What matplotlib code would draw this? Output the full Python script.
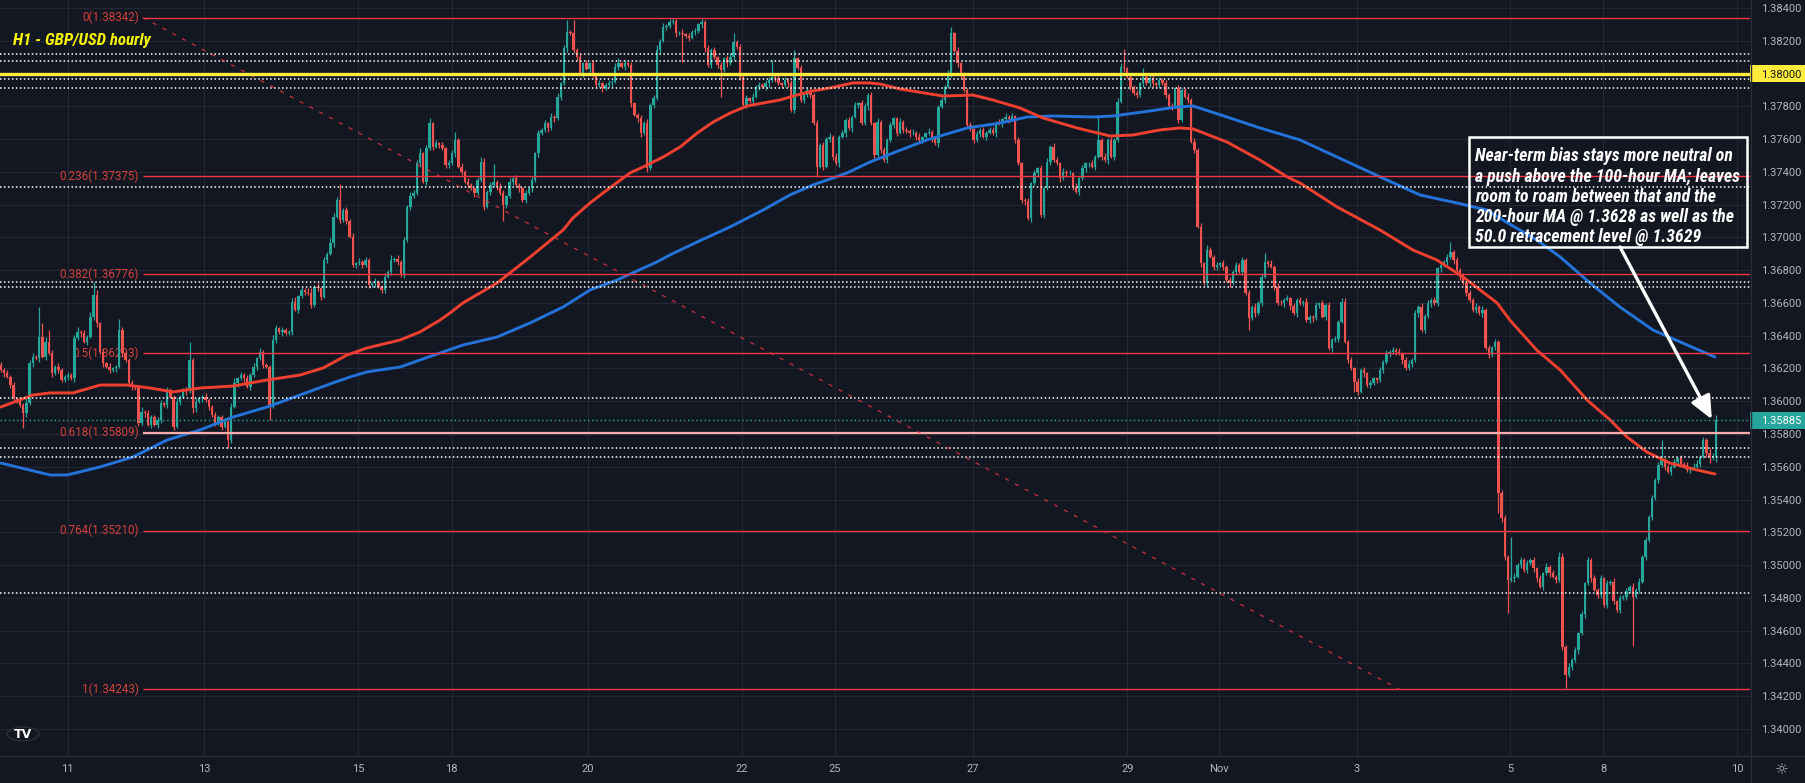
import numpy as np
import matplotlib
matplotlib.use("Agg")
import matplotlib.pyplot as plt
from matplotlib.patches import Rectangle, Circle
from matplotlib.lines import Line2D
from matplotlib.transforms import blended_transform_factory
from matplotlib import font_manager

# ---------------- colours ----------------
BG = "#131722"
UP = "#26a69a"
DOWN = "#ef5350"
GRID = "#232733"
AXIS_TXT = "#b2b5be"
FIB = "#f23645"
FIB_TXT = "#d2413c"

# ---------------- data ----------------
# hourly closes, in 1e-5 above 1.30000 (so 5886 -> 1.35886), 10 bars per row
closes_rows = [
    [6191, 6171, 6150, 6100, 6018, 6008, 5978, 5927, 5988, 6232],
    [6273, 6262, 6395, 6273, 6364, 6293, 6171, 6212, 6191, 6130],
    [6150, 6161, 6140, 6384, 6425, 6415, 6364, 6395, 6517, 6649],
    [6476, 6300, 6232, 6212, 6191, 6200, 6212, 6435, 6293, 6252],
    [6110, 6090, 6080, 5866, 5937, 5927, 5856, 5907, 5856, 5886],
    [5988, 5978, 6069, 6028, 5845, 5998, 6028, 6069, 6060, 6252],
    [5957, 5998, 6018, 6028, 6008, 5968, 5917, 5866, 5907, 5845],
    [5876, 5764, 5968, 6110, 6140, 6161, 6140, 6090, 6161, 6212],
    [6262, 6303, 6222, 6212, 5968, 6374, 6446, 6420, 6435, 6415],
    [6425, 6608, 6560, 6640, 6679, 6669, 6660, 6588, 6700, 6690],
    [6639, 6862, 6900, 6964, 7127, 7229, 7107, 7168, 7100, 7005],
    [6832, 6842, 6852, 6832, 6862, 6710, 6720, 6730, 6700, 6679],
    [6761, 6791, 6862, 6870, 6852, 6771, 6985, 7188, 7250, 7269],
    [7452, 7513, 7340, 7544, 7696, 7554, 7574, 7564, 7544, 7442],
    [7452, 7513, 7595, 7432, 7400, 7340, 7320, 7300, 7269, 7351],
    [7462, 7188, 7279, 7320, 7340, 7310, 7269, 7198, 7250, 7340],
    [7361, 7320, 7300, 7229, 7269, 7300, 7351, 7513, 7635, 7656],
    [7696, 7666, 7737, 7727, 7859, 7941, 8154, 8256, 8246, 8144],
    [8100, 8002, 8063, 8030, 8063, 7990, 7930, 7941, 7910, 7930],
    [7941, 7950, 8042, 8063, 8042, 8063, 8052, 7818, 7750, 7727],
    [7635, 7700, 7422, 7808, 7849, 8144, 8200, 8286, 8290, 8315],
    [8320, 8246, 8250, 8240, 8230, 8220, 8256, 8260, 8300, 8315],
    [8154, 8052, 8144, 8100, 8052, 8020, 8093, 8063, 8103, 8195],
    [8160, 7981, 7808, 7849, 7830, 7859, 7920, 7930, 7920, 7941],
    [7961, 7981, 7971, 7940, 7930, 7961, 7941, 7778, 8093, 8032],
    [7839, 7869, 7900, 7869, 7696, 7432, 7564, 7432, 7600, 7615],
    [7493, 7452, 7615, 7635, 7717, 7666, 7737, 7808, 7818, 7696],
    [7800, 7869, 7696, 7503, 7707, 7534, 7473, 7595, 7686, 7727],
    [7640, 7707, 7656, 7650, 7635, 7640, 7615, 7595, 7610, 7635],
    [7646, 7600, 7574, 7798, 7839, 7920, 8000, 8246, 8140, 8063],
    [7990, 7900, 7686, 7660, 7595, 7630, 7656, 7615, 7640, 7656],
    [7635, 7700, 7696, 7720, 7737, 7720, 7740, 7595, 7452, 7229],
    [7220, 7117, 7330, 7391, 7422, 7137, 7300, 7462, 7554, 7470],
    [7452, 7361, 7402, 7391, 7391, 7310, 7279, 7361, 7422, 7452],
    [7452, 7432, 7493, 7595, 7493, 7470, 7595, 7493, 7595, 7829],
    [8042, 8032, 7980, 7920, 7880, 7869, 7941, 7981, 7941, 7971],
    [7941, 7930, 7961, 7941, 7869, 7800, 7798, 7910, 7717, 7900],
    [7859, 7839, 7585, 7534, 7066, 6842, 6720, 6924, 6883, 6822],
    [6830, 6842, 6820, 6740, 6720, 6791, 6832, 6791, 6862, 6659],
    [6507, 6578, 6537, 6600, 6761, 6852, 6840, 6822, 6700, 6598],
    [6597, 6620, 6628, 6580, 6536, 6618, 6600, 6608, 6496, 6516],
    [6506, 6587, 6597, 6516, 6587, 6323, 6374, 6380, 6486, 6608],
    [6363, 6252, 6200, 6119, 6058, 6191, 6170, 6099, 6110, 6140],
    [6130, 6191, 6240, 6292, 6300, 6313, 6303, 6292, 6250, 6201],
    [6230, 6252, 6536, 6577, 6435, 6520, 6597, 6618, 6600, 6811],
    [6830, 6852, 6880, 6913, 6860, 6801, 6760, 6719, 6660, 6618],
    [6557, 6577, 6536, 6560, 6323, 6282, 6330, 6363, 5438, 5285],
    [5052, 4909, 4919, 4930, 5000, 5031, 4970, 5010, 5031, 4980],
    [4920, 4869, 4950, 4991, 4950, 4930, 4909, 5052, 4502, 4330],
    [4380, 4421, 4480, 4584, 4700, 4889, 5031, 4919, 4850, 4818],
    [4919, 4757, 4889, 4899, 4780, 4726, 4797, 4808, 4840, 4869],
    [4808, 4850, 4899, 5050, 5153, 5296, 5408, 5519, 5611, 5641],
    [5600, 5570, 5601, 5630, 5652, 5620, 5610, 5580, 5590, 5601],
    [5620, 5662, 5763, 5682, 5662, 5662, 5886],
]
first_open = 6220

# upper / lower wick beyond the body, in pips
wick_up_rows = [
    [2, 1, 2, 1, 2, 1, 2, 1, 3, 2], [2, 1, 18, 8, 3, 7, 2, 1, 2, 1],
    [1, 2, 1, 2, 3, 1, 2, 1, 3, 8], [3, 1, 2, 1, 2, 1, 1, 7, 2, 1],
    [1, 2, 1, 1, 3, 1, 2, 1, 1, 2], [2, 1, 2, 1, 1, 2, 1, 1, 2, 11],
    [1, 2, 1, 1, 2, 1, 1, 2, 1, 1], [2, 1, 2, 3, 1, 2, 1, 2, 1, 2],
    [1, 2, 1, 1, 1, 3, 2, 1, 2, 1], [1, 2, 3, 1, 2, 1, 2, 3, 1, 2],
    [1, 2, 1, 3, 2, 2, 10, 1, 2, 1], [2, 1, 2, 1, 2, 1, 1, 2, 1, 1],
    [2, 1, 3, 1, 2, 1, 2, 1, 3, 2], [2, 3, 1, 2, 3, 1, 2, 1, 2, 1],
    [2, 2, 5, 1, 2, 1, 2, 1, 1, 2], [3, 2, 1, 2, 11, 1, 2, 2, 1, 2],
    [1, 2, 1, 1, 2, 1, 2, 1, 2, 1], [2, 1, 2, 1, 2, 1, 2, 7, 1, 8],
    [1, 2, 1, 2, 1, 2, 1, 2, 1, 1], [2, 1, 2, 3, 1, 2, 1, 2, 1, 1],
    [2, 1, 2, 1, 2, 3, 1, 2, 1, 2], [2, 1, 1, 2, 1, 2, 1, 2, 1, 2],
    [1, 2, 1, 2, 1, 2, 1, 2, 2, 5], [1, 2, 1, 2, 1, 2, 1, 2, 1, 2],
    [2, 10, 1, 2, 1, 2, 1, 2, 5, 1], [2, 1, 2, 1, 1, 2, 1, 2, 1, 2],
    [1, 2, 1, 2, 1, 2, 1, 2, 1, 2], [2, 1, 2, 1, 2, 1, 2, 1, 2, 1],
    [1, 2, 1, 2, 1, 2, 1, 2, 1, 1], [2, 1, 2, 1, 2, 1, 2, 4, 1, 2],
    [1, 2, 1, 2, 1, 2, 1, 2, 1, 2], [2, 1, 2, 1, 2, 1, 2, 1, 2, 1],
    [1, 2, 1, 2, 1, 2, 1, 2, 1, 2], [2, 1, 2, 1, 2, 1, 2, 1, 2, 1],
    [1, 2, 1, 14, 1, 2, 1, 2, 1, 2], [2, 11, 1, 2, 1, 2, 1, 5, 1, 2],
    [2, 1, 2, 1, 2, 1, 2, 1, 2, 1], [1, 2, 1, 2, 1, 2, 1, 3, 2, 1],
    [2, 1, 2, 1, 2, 1, 2, 1, 2, 1], [2, 1, 2, 1, 2, 5, 1, 2, 1, 2],
    [2, 1, 2, 1, 2, 1, 2, 1, 2, 1], [1, 2, 1, 2, 1, 2, 1, 2, 1, 2],
    [2, 1, 2, 1, 2, 1, 2, 1, 2, 1], [1, 2, 1, 2, 1, 2, 1, 2, 1, 2],
    [2, 1, 2, 1, 2, 1, 2, 1, 2, 1], [2, 1, 2, 6, 1, 2, 1, 2, 1, 2],
    [1, 2, 1, 2, 1, 2, 1, 2, 1, 2], [2, 1, 25, 2, 1, 2, 1, 2, 1, 2],
    [1, 2, 1, 2, 1, 2, 1, 3, 2, 1], [2, 1, 2, 1, 2, 1, 2, 1, 2, 1],
    [2, 1, 2, 1, 2, 1, 2, 1, 2, 1], [2, 1, 2, 1, 2, 1, 2, 1, 2, 12],
    [1, 2, 1, 2, 1, 2, 1, 2, 1, 2], [2, 1, 2, 1, 3, 2, 3],
]
wick_dn_rows = [
    [1, 2, 1, 2, 1, 2, 1, 9, 2, 1], [2, 1, 2, 1, 2, 1, 2, 1, 2, 1],
    [1, 2, 1, 2, 1, 2, 1, 2, 1, 2], [2, 1, 2, 1, 2, 1, 2, 1, 2, 1],
    [1, 2, 1, 2, 1, 2, 1, 2, 1, 2], [2, 1, 2, 1, 2, 1, 2, 1, 2, 1],
    [3, 2, 1, 2, 1, 2, 1, 2, 1, 2], [1, 5, 2, 1, 2, 1, 2, 1, 2, 1],
    [2, 1, 2, 1, 8, 1, 2, 1, 2, 1], [1, 2, 1, 2, 1, 2, 1, 2, 1, 2],
    [2, 1, 2, 1, 2, 1, 2, 1, 2, 1], [1, 2, 1, 2, 1, 2, 1, 2, 1, 2],
    [2, 1, 2, 1, 2, 1, 2, 1, 2, 1], [1, 2, 1, 2, 1, 2, 1, 2, 1, 2],
    [2, 1, 2, 1, 2, 1, 2, 1, 2, 1], [1, 2, 1, 2, 1, 2, 1, 10, 2, 1],
    [2, 1, 2, 1, 2, 1, 2, 1, 2, 1], [1, 2, 1, 2, 1, 2, 1, 2, 1, 2],
    [2, 1, 2, 1, 2, 1, 2, 1, 2, 1], [1, 2, 1, 2, 1, 2, 1, 2, 1, 2],
    [2, 1, 2, 1, 2, 1, 2, 1, 2, 1], [1, 2, 1, 17, 1, 2, 1, 2, 1, 2],
    [2, 1, 2, 1, 2, 16, 1, 2, 1, 2], [1, 2, 1, 2, 1, 2, 1, 2, 1, 2],
    [2, 1, 2, 1, 2, 1, 2, 1, 2, 1], [1, 2, 1, 2, 1, 6, 1, 2, 1, 2],
    [2, 1, 2, 1, 2, 1, 2, 1, 2, 1], [1, 2, 1, 2, 1, 2, 1, 2, 1, 2],
    [2, 1, 2, 1, 2, 1, 2, 1, 2, 1], [1, 2, 1, 2, 1, 2, 1, 2, 1, 2],
    [2, 1, 2, 1, 2, 1, 2, 1, 2, 1], [1, 2, 1, 2, 1, 2, 1, 2, 1, 2],
    [2, 1, 2, 1, 2, 1, 2, 1, 2, 1], [1, 2, 1, 2, 1, 2, 1, 2, 1, 2],
    [2, 1, 2, 1, 2, 1, 2, 1, 2, 1], [1, 2, 1, 2, 1, 2, 1, 2, 1, 2],
    [2, 1, 2, 1, 2, 1, 2, 1, 2, 1], [1, 2, 1, 2, 1, 2, 1, 2, 1, 2],
    [2, 1, 2, 1, 2, 1, 2, 1, 2, 1], [7, 1, 2, 1, 2, 1, 2, 1, 2, 1],
    [1, 2, 1, 2, 1, 2, 1, 2, 1, 2], [2, 1, 2, 1, 2, 1, 2, 1, 2, 1],
    [1, 2, 1, 6, 2, 1, 2, 1, 2, 1], [2, 1, 2, 1, 2, 1, 2, 1, 2, 1],
    [1, 2, 1, 2, 1, 2, 1, 2, 1, 2], [2, 1, 2, 1, 2, 1, 2, 1, 2, 1],
    [1, 2, 1, 2, 1, 2, 1, 2, 12, 2], [2, 20, 1, 2, 1, 2, 1, 2, 1, 2],
    [2, 1, 2, 1, 2, 1, 2, 1, 2, 8], [1, 2, 1, 2, 1, 2, 1, 2, 1, 2],
    [2, 1, 2, 1, 2, 1, 2, 1, 2, 1], [30, 1, 2, 1, 2, 1, 2, 1, 2, 1],
    [2, 1, 2, 1, 2, 1, 2, 1, 2, 1], [1, 2, 1, 2, 4, 2, 3],
]

# 100-hour MA (red) and 200-hour MA (blue)
ma100_bar = [0, 10, 15.4, 22.6, 31, 39.4, 46.6, 53.8, 62.3, 72.6,
             83.2, 93.5, 100.7, 108.2, 114.4, 124.8, 131, 137.3, 140.4, 144.4,
             155.1, 165.4, 175.7, 178.8, 184.1, 189.4, 196.6, 202, 207, 212.3,
             217.6, 222.6, 227.9, 233.2, 238.2, 243.5, 248.8, 253.8, 259.1, 266.3,
             271.6, 274.8, 281, 294.4, 303.8, 310, 318.5, 325.7, 336.3, 346.6,
             353.8, 362.3, 368.5, 372.6, 383.2, 393.5, 402, 406, 417.6, 431,
             441.3, 448.8, 457, 467.6, 471.6, 480, 487.3, 495.7, 502.9, 508.2,
             514.4, 521.6, 530, 535.7]
ma100_val = [5965, 6038, 6051, 6051, 6099, 6099, 6081, 6057, 6081, 6093,
             6130, 6160, 6203, 6282, 6325, 6374, 6423, 6496, 6539, 6600,
             6722, 6880, 7045, 7119, 7210, 7289, 7393, 7442, 7491, 7552,
             7637, 7704, 7759, 7802, 7820, 7839, 7869, 7894, 7912, 7943,
             7943, 7936, 7906, 7863, 7869, 7839, 7790, 7729, 7668, 7619,
             7625, 7656, 7668, 7662, 7582, 7472, 7369, 7332, 7186, 7045,
             6923, 6862, 6758, 6600, 6495, 6312, 6191, 6008, 5886, 5782,
             5690, 5623, 5581, 5556]
ma200_bar = [0, 15.4, 20.7, 31, 41.3, 52, 62.3, 72.6, 83.2, 93.5,
             103.8, 109.1, 114.4, 124.8, 137.3, 144.4, 155.1, 165.4, 175.7, 184.1,
             192.6, 205, 209.1, 217.6, 227.9, 238.2, 246.6, 253.8, 264.4, 271.6,
             278.8, 289.4, 302, 312.3, 320.7, 328.8, 341.3, 347.6, 357, 367.6,
             372.6, 383.2, 393.5, 406, 433.2, 443.5, 455.1, 464.4, 469.4, 480,
             487.3, 496.6, 506, 516.3, 524.8, 535.7]
ma200_val = [5623, 5550, 5550, 5599, 5660, 5764, 5825, 5904, 5965, 6038,
             6112, 6148, 6179, 6209, 6295, 6343, 6392, 6478, 6575, 6679,
             6740, 6850, 6893, 6972, 7064, 7167, 7259, 7320, 7393, 7460,
             7515, 7595, 7668, 7698, 7735, 7741, 7735, 7741, 7766, 7796,
             7802, 7735, 7668, 7595, 7350, 7259, 7210, 7167, 7106, 6984,
             6881, 6722, 6575, 6435, 6362, 6270]

fib_levels = ["0", "0.236", "0.382", "0.5", "0.618", "0.764", "1"]
fib_prices = [1.38342, 1.37375, 1.36776, 1.36293, 1.35809, 1.35210, 1.34243]
fib_start_bar = 44.4
fib_end_bar = 437.0

dotted_levels = [1.38121, 1.38079, 1.37965, 1.37910, 1.37305, 1.36730,
                 1.36696, 1.36018, 1.35713, 1.35658, 1.34830]
key_level = 1.38000
last_price = 1.35885

time_tick_bars = [20.9, 63.5, 111.6, 140.9, 183.5, 231.6, 260.7, 303.8,
                  352.0, 380.7, 423.8, 471.6, 500.7, 542.6]
time_tick_labels = ["11", "13", "15", "18", "20", "22", "25", "27",
                    "29", "Nov", "3", "5", "8", "10"]
price_ticks = [round(1.340 + 0.002 * k, 3) for k in range(23)]

note = ("Near-term bias stays more neutral on\n"
        "a push above the 100-hour MA; leaves\n"
        "room to roam between that and the\n"
        "200-hour MA @ 1.3628 as well as the\n"
        "50.0 retracement level @ 1.3629")


# ---------------- fonts ----------------
def pick_font(names):
    for n in names:
        try:
            font_manager.findfont(font_manager.FontProperties(family=n),
                                  fallback_to_default=False)
            return n
        except Exception:
            pass
    return "DejaVu Sans"


UI_FONT = pick_font(["Roboto", "Liberation Sans", "DejaVu Sans"])
NOTE_FONT = pick_font(["Liberation Sans Narrow", "Roboto Condensed", "Roboto", "DejaVu Sans"])

# ---------------- build OHLC ----------------
closes = np.array([v for row in closes_rows for v in row], dtype=float)
wick_up = np.array([v for row in wick_up_rows for v in row], dtype=float)
wick_dn = np.array([v for row in wick_dn_rows for v in row], dtype=float)
n = len(closes)
assert len(wick_up) == n and len(wick_dn) == n, (n, len(wick_up), len(wick_dn))

c = 1.3 + closes / 1e5
o = np.concatenate([[1.3 + first_open / 1e5], c[:-1]])
top = np.maximum(o, c)
bot = np.minimum(o, c)
hi = top + wick_up * 1e-4
lo = bot - wick_dn * 1e-4
x = np.arange(n)
cols = np.where(c >= o, UP, DOWN)

# ---------------- figure ----------------
W, H = 1805, 783
PLOT_W, PLOT_H, AX_H = 1750, 756, 27
fig = plt.figure(figsize=(W / 100, H / 100), dpi=100)
fig.patch.set_facecolor(BG)
ax = fig.add_axes([0, AX_H / H, PLOT_W / W, PLOT_H / H])
ax.set_facecolor(BG)

# 3.2 px per bar, first bar at 0.8 px
ax.set_xlim(-0.8 / 3.2, (PLOT_W - 0.8) / 3.2)
ax.set_ylim(1.33835, 1.38449)

for s in ax.spines.values():
    s.set_visible(False)

# grid
for p in price_ticks:
    ax.axhline(p, color=GRID, lw=0.8, zorder=0)
for b in time_tick_bars:
    ax.axvline(b, color=GRID, lw=0.8, zorder=0)

# candles
ax.vlines(x, lo, hi, colors=cols, lw=0.9, zorder=3)
ax.bar(x, np.maximum(top - bot, 0.00002), bottom=bot, width=0.8,
       color=cols, linewidth=0, zorder=4)

# moving averages
ax.plot(ma200_bar, 1.3 + np.array(ma200_val) / 1e5, color="#2473d9", lw=2.1,
        solid_capstyle="round", zorder=5)
ax.plot(ma100_bar, 1.3 + np.array(ma100_val) / 1e5, color="#f0402f", lw=2.1,
        solid_capstyle="round", zorder=5)

# white dotted levels + last price line
for p in dotted_levels:
    ax.axhline(p, color="white", lw=1.1, ls=(0, (1, 1.6)), zorder=6)
ax.axhline(last_price, color=UP, lw=1.0, ls=(0, (1, 2)), zorder=6)

# fibonacci retracement
for lvl, p in zip(fib_levels, fib_prices):
    if lvl == "0.618":
        ax.hlines(p, fib_start_bar, 600, color="#f7abab", lw=1.6, zorder=6)
    else:
        ax.hlines(p, fib_start_bar, 600, color=FIB, lw=1.0, zorder=6)
    ax.text(fib_start_bar - 1.3, p, f"{lvl}({p:.5f})", color=FIB_TXT,
            fontsize=8.4, family=UI_FONT, ha="right", va="center", zorder=2)
ax.plot([fib_start_bar, fib_end_bar], [fib_prices[0], fib_prices[-1]],
        color=FIB, lw=1.0, ls=(0, (3, 5)), alpha=0.75, zorder=6)

# 1.3800 key level
ax.axhline(key_level, color="#ffeb3b", lw=2.4, zorder=7)

# title
ax.text(13 / PLOT_W, 1 - 40 / PLOT_H, "H1 - GBP/USD hourly", transform=ax.transAxes,
        color="#f7f700", fontsize=12.2, fontweight="bold", fontstyle="italic",
        family=NOTE_FONT, ha="left", va="center", zorder=8)

# note box and arrow
box_l, box_r = 458.8, 545.8
box_b, box_t = 1.36942, 1.37613
ax.add_patch(Rectangle((box_l, box_b), box_r - box_l, box_t - box_b, fill=False,
                       ec="white", lw=1.8, zorder=8, clip_on=False))
ax.text(box_l + 2.0, box_t - 0.00064, note, color="white", fontsize=12.8,
        fontweight="bold", fontstyle="italic", family=NOTE_FONT,
        ha="left", va="top", linespacing=1.15, zorder=8)
ax.annotate("", xy=(534.7, 1.35890), xytext=(506.0, 1.36942),
            arrowprops=dict(arrowstyle="-|>,head_length=1.0,head_width=0.45",
                            color="white", lw=2.4, mutation_scale=14,
                            shrinkA=0, shrinkB=0), zorder=8)

# price axis
ax.yaxis.tick_right()
ax.set_yticks(price_ticks)
ax.set_yticklabels([f"{p:.5f}" for p in price_ticks])
ax.tick_params(axis="y", length=0, pad=8, labelsize=8, labelcolor=AXIS_TXT)
for lab in ax.get_yticklabels():
    lab.set_family(UI_FONT)

# time axis
ax.set_xticks(time_tick_bars)
ax.set_xticklabels(time_tick_labels)
ax.tick_params(axis="x", length=0, pad=6, labelsize=8, labelcolor=AXIS_TXT)
for lab in ax.get_xticklabels():
    lab.set_family(UI_FONT)

# coloured price tags on the axis
tr = blended_transform_factory(ax.transAxes, ax.transData)
tag_w = (W - PLOT_W) / PLOT_W
tag_h = 17 / 16386
for p, fc, tc in [(key_level, "#ffeb3b", "#131722"), (last_price, UP, "white")]:
    ax.add_patch(Rectangle((1.0, p - tag_h / 2), tag_w, tag_h, transform=tr,
                           fc=fc, ec="none", clip_on=False, zorder=9))
    ax.text(1.0 + 11 / PLOT_W, p, f"{p:.5f}", transform=tr, color=tc,
            fontsize=8, family=UI_FONT, ha="left", va="center_baseline",
            clip_on=False, zorder=10)

# pane separators
fig.add_artist(Line2D([(PLOT_W + 0.5) / W] * 2, [0, 1], color="#2a2e39", lw=1))
fig.add_artist(Line2D([0, 1], [AX_H / H] * 2, color="#2a2e39", lw=1))

# logo and settings glyph
fig.add_artist(Circle((23 / W, 1 - 734 / H), 16 / W, transform=fig.transFigure,
                      fc=BG, ec="#2a2e39", lw=1))
fig.text(23 / W, 1 - 734 / H, "TV", color="white", fontsize=9, fontweight="bold",
         ha="center", va="center", family="DejaVu Sans")
fig.text(1782 / W, 1 - 770 / H, "\u263c", color=AXIS_TXT, fontsize=11,
         ha="center", va="center", family="DejaVu Sans")

fig.savefig("out.png", dpi=100, facecolor=BG)
